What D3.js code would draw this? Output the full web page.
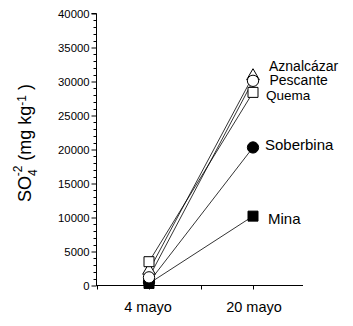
<!DOCTYPE html>
<html><head><meta charset="utf-8">
<script src="https://cdn.jsdelivr.net/npm/d3@7"></script>
<style>body{margin:0;background:#fff}svg{display:block}</style>
</head><body>
<svg id="c" width="353" height="326"></svg>
<script>
const dates = ["4 mayo", "20 mayo"];
const datePos = [1, 3];
const series = ["Aznalcázar", "Pescante", "Quema", "Soberbina", "Mina"];
const aznalcazar = [2200, 30800];
const pescante = [1200, 30100];
const quema = [3500, 28400];
const soberbina = [500, 20300];
const mina = [300, 10200];
const yTicks = [0, 5000, 10000, 15000, 20000, 25000, 30000, 35000, 40000];

const values = [aznalcazar, pescante, quema, soberbina, mina];
const shapes = ["triangle", "circle", "square", "circle", "square"];
const fills = ["#fff", "#fff", "#fff", "#000", "#000"];
const labelOff = [[16, -5.5], [16.5, 4.5], [13, 7.5], [12, 2.5], [15, 8]];
const labelSize = [14, 14, 13.5, 15, 15];

const svg = d3.select("#c");
const x = d3.scaleLinear().domain([0, 4]).range([97, 305]);
const y = d3.scaleLinear().domain([0, 40000]).range([285.5, 13.5]);

const font = "Liberation Sans, Arial, sans-serif";

// y axis
const yAxis = d3.axisLeft(y).tickValues(yTicks).tickSize(5).tickPadding(2).tickFormat(d3.format("d"));
const gy = svg.append("g").attr("transform", "translate(96.5,0)").call(yAxis);
gy.select(".domain").attr("d", "M-5," + y(40000) + "H0V" + y(0));
gy.selectAll("text").attr("font-family", font).attr("font-size", 11.3).attr("fill", "#000");
gy.selectAll("line").attr("stroke", "#000");
const minor = d3.range(0, 40001, 1000).filter(d => d % 5000 !== 0);
gy.selectAll(".minor").data(minor).join("line").attr("class", "minor")
  .attr("x1", -3).attr("x2", 0).attr("y1", d => Math.round(y(d)) + 0.5).attr("y2", d => Math.round(y(d)) + 0.5).attr("stroke", "#000");

// x axis
const xAxis = d3.axisBottom(x).tickValues([0, 1, 2, 3]).tickSize(4).tickFormat("");
const gx = svg.append("g").attr("transform", "translate(0,285.5)").call(xAxis);
gx.select(".domain").attr("d", "M96,0H303");
gx.selectAll("line").attr("stroke", "#000");
svg.selectAll(".xl").data(dates).join("text").attr("class", "xl")
  .attr("x", (d, i) => x(datePos[i]) - 1 + i * 2).attr("y", 312).attr("text-anchor", "middle")
  .attr("font-family", font).attr("font-size", 14.5).text(d => d);

// y label
const yl = svg.append("text").attr("transform", "translate(31,143) rotate(-90)")
  .attr("text-anchor", "middle").attr("font-family", font).attr("font-size", 18);
yl.append("tspan").text("SO");
yl.append("tspan").attr("font-size", 12).attr("dy", 6).text("4");
yl.append("tspan").attr("font-size", 12).attr("dy", -15).attr("dx", -7).text("-2");
yl.append("tspan").attr("dy", 9).text(" (mg kg");
yl.append("tspan").attr("font-size", 12).attr("dy", -5).text("-1");
yl.append("tspan").attr("dy", 5).text(" )");

// lines
const line = d3.line().x((d, i) => x(datePos[i])).y(d => y(d));
svg.selectAll(".ln").data(values).join("path").attr("class", "ln")
  .attr("d", d => line(d)).attr("fill", "none").attr("stroke", "#000").attr("stroke-width", 0.8);

// markers
const sym = { triangle: d3.symbolTriangle, circle: d3.symbolCircle, square: d3.symbolSquare };
const sizes = { triangle: 70, circle: 100, square: 100 };
const drawOrder = [0, 4, 3, 1, 2];
drawOrder.forEach(si => {
  values[si].forEach((v, i) => {
    svg.append("path").attr("d", d3.symbol(sym[shapes[si]], sizes[shapes[si]])())
      .attr("transform", `translate(${x(datePos[i])},${y(v)})`)
      .attr("fill", fills[si]).attr("stroke", "#000").attr("stroke-width", 1);
  });
});

// series labels
svg.selectAll(".sl").data(series).join("text").attr("class", "sl")
  .attr("x", (d, i) => x(datePos[1]) + labelOff[i][0])
  .attr("y", (d, i) => y(values[i][1]) + labelOff[i][1])
  .attr("font-family", font).attr("font-size", (d, i) => labelSize[i]).text(d => d);
</script>
</body></html>
